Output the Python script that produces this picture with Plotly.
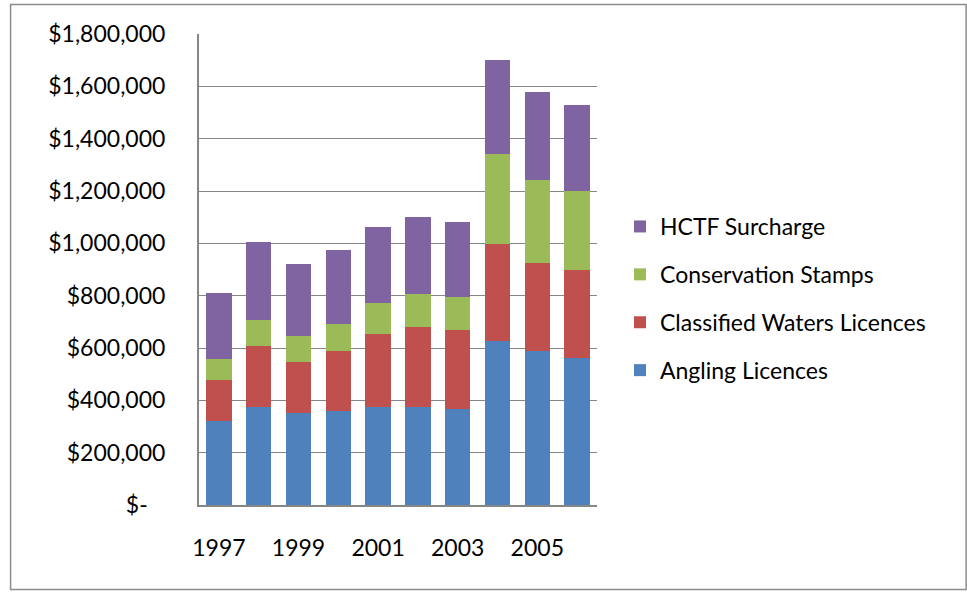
import plotly.graph_objects as go

years = ["1997", "1998", "1999", "2000", "2001", "2002", "2003", "2004", "2005", "2006"]
angling = [321000, 376000, 350000, 359000, 376000, 373000, 368000, 626000, 589000, 563000]
classified = [158000, 233000, 198000, 229000, 279000, 306000, 301000, 371000, 334000, 334000]
stamps = [79000, 98000, 97000, 105000, 116000, 126000, 126000, 343000, 319000, 302000]
hctf = [252000, 299000, 277000, 281000, 291000, 294000, 286000, 362000, 336000, 329000]

series_names = ["Angling Licences", "Classified Waters Licences", "Conservation Stamps", "HCTF Surcharge"]
series_vals = [angling, classified, stamps, hctf]
series_colors = ["#4F81BD", "#C0504D", "#9BBB59", "#8064A2"]
legend_ranks = [4, 3, 2, 1]

ytick_vals = [0, 200000, 400000, 600000, 800000, 1000000, 1200000, 1400000, 1600000, 1800000]
ytick_text = ["$-\u00a0\u00a0\u00a0", "$200,000", "$400,000", "$600,000", "$800,000", "$1,000,000",
              "$1,200,000", "$1,400,000", "$1,600,000", "$1,800,000"]
xtick_vals = ["1997", "1999", "2001", "2003", "2005"]

W, H = 967, 592
ML, MR, MT, MB = 198.5, 370.3, 34, 86.5
FONT = "Lato"
FS = 23

fig = go.Figure()
for name, vals, col, rk in zip(series_names, series_vals, series_colors, legend_ranks):
    fig.add_trace(go.Bar(
        x=years, y=vals, name=name, legendgroup=name, legendrank=rk,
        marker=dict(color=col, line=dict(width=0)),
    ))

pw = W - ML - MR
ph = H - MT - MB

def px_x(p):
    return (p - ML) / pw

def px_y(p):
    return (H - MB - p) / ph

fig.update_layout(
    width=W, height=H, autosize=False,
    margin=dict(l=ML, r=MR, t=MT, b=MB, pad=0),
    barmode="stack", bargap=0.36,
    paper_bgcolor="white", plot_bgcolor="white",
    font=dict(family=FONT, size=FS, color="black"),
    showlegend=True,
    legend=dict(
        traceorder="grouped", tracegroupgap=15,
        xref="container", yref="container",
        x=620 / W, y=1 - 205 / H, xanchor="left", yanchor="top",
        font=dict(family=FONT, size=FS, color="black"),
        bgcolor="rgba(0,0,0,0)", itemclick=False,
    ),
    xaxis=dict(
        type="category", tickvals=xtick_vals, ticks="", showgrid=False,
        showline=True, linecolor="#868686", linewidth=2,
        ticklabelstandoff=21, tickfont=dict(family=FONT, size=FS),
    ),
    yaxis=dict(
        range=[0, 1800000], tickvals=ytick_vals, ticktext=ytick_text,
        showgrid=True, gridcolor="#868686", gridwidth=1.3,
        showline=True, linecolor="#868686", linewidth=2,
        zeroline=False, ticks="", ticklabelstandoff=27,
        tickfont=dict(family=FONT, size=FS),
    ),
    shapes=[dict(
        type="rect", xref="paper", yref="paper",
        x0=px_x(10), x1=px_x(966), y0=px_y(590), y1=px_y(4.5),
        line=dict(color="#8C8C8C", width=1.5), fillcolor="rgba(0,0,0,0)", layer="below",
    )],
)

fig.write_html("out.html", config={"displayModeBar": False},
               post_script="document.body.style.margin='0px';")
